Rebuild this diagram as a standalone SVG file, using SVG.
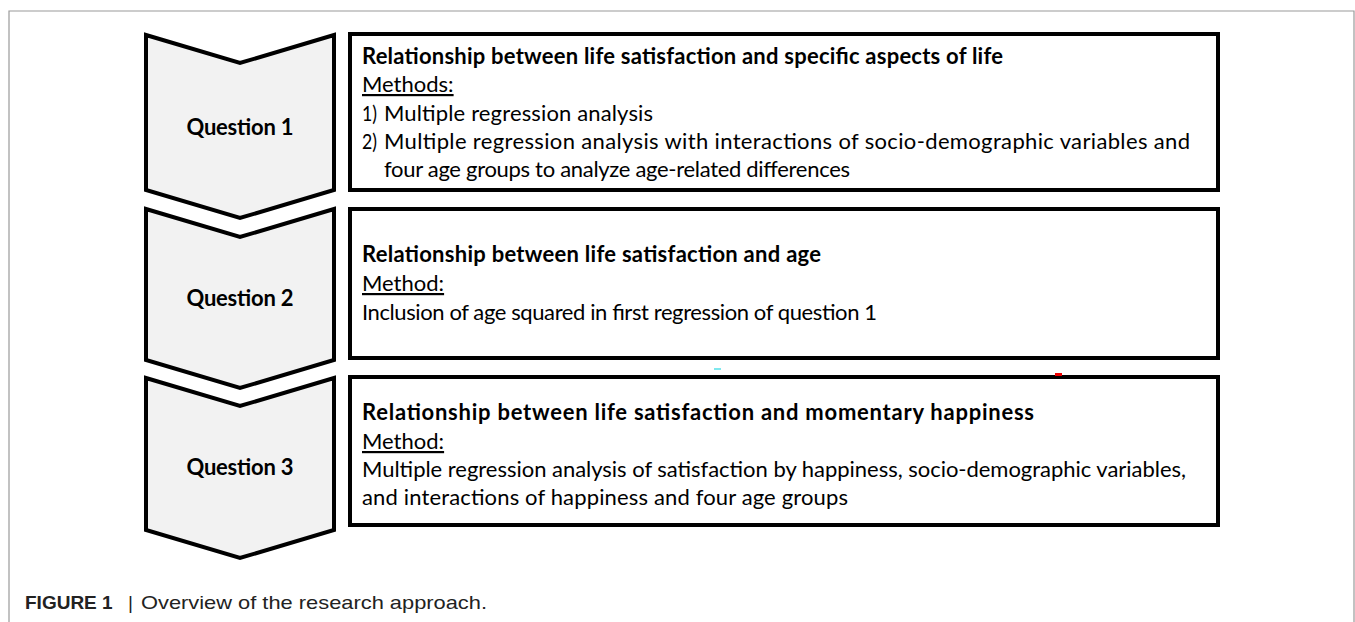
<svg xmlns="http://www.w3.org/2000/svg" width="1355" height="622" viewBox="0 0 1355 622">
<style>
.frame{fill:none;stroke:#9a9a9a;stroke-width:1.2}
.chev{fill:#f2f2f2;stroke:#000;stroke-width:4;stroke-linejoin:miter}
.box{fill:#fff;stroke:#000;stroke-width:4}
.q{font-family:Lato,"Liberation Sans",sans-serif;font-weight:bold;font-size:22px;fill:#000;text-anchor:middle}
.t{font-family:Lato,"Liberation Sans",sans-serif;font-size:22px;fill:#000}
.b{font-weight:bold}
.u{text-decoration:underline}
.cap{font-family:"Liberation Sans",Arial,sans-serif;font-size:19px;fill:#222}
</style>
<rect width="1355" height="622" fill="#fff"/>
<path class="frame" d="M9,622 V11 H1354 V622"/>
<g id="q1">
<path class="chev" d="M146,35 L240,63 L334,35 L334,190 L240,218 L146,190 Z"/>
<text class="q" x="240" y="135" textLength="107" lengthAdjust="spacing">Question 1</text>
</g>
<g id="q2">
<path class="chev" d="M146,209 L240,237 L334,209 L334,360 L240,388 L146,360 Z"/>
<text class="q" x="240" y="306" textLength="107" lengthAdjust="spacing">Question 2</text>
</g>
<g id="q3">
<path class="chev" d="M146,378 L240,406 L334,378 L334,530 L240,558 L146,530 Z"/>
<text class="q" x="240" y="475" textLength="107" lengthAdjust="spacing">Question 3</text>
</g>
<g id="box1">
<rect class="box" x="350" y="34" width="868" height="156"/>
<text class="t b" x="362" y="64" textLength="641" lengthAdjust="spacing">Relationship between life satisfaction and specific aspects of life</text>
<text class="t u" x="362" y="92">Methods:</text>
<text class="t" x="362" y="121" textLength="15" lengthAdjust="spacingAndGlyphs">1)</text>
<text class="t" x="384" y="121" textLength="269" lengthAdjust="spacing">Multiple regression analysis</text>
<text class="t" x="362" y="149" textLength="15" lengthAdjust="spacingAndGlyphs">2)</text>
<text class="t" x="384" y="149" textLength="806" lengthAdjust="spacing">Multiple regression analysis with interactions of socio-demographic variables and</text>
<text class="t" x="384" y="177" textLength="466" lengthAdjust="spacing">four age groups to analyze age-related differences</text>
</g>
<g id="box2">
<rect class="box" x="350" y="209" width="868" height="149"/>
<text class="t b" x="362" y="262" textLength="459" lengthAdjust="spacing">Relationship between life satisfaction and age</text>
<text class="t u" x="362" y="291">Method:</text>
<text class="t" x="362" y="320" textLength="515" lengthAdjust="spacing">Inclusion of age squared in first regression of question 1</text>
</g>
<g id="box3">
<rect class="box" x="350" y="377" width="868" height="148"/>
<text class="t b" x="362" y="420" textLength="672" lengthAdjust="spacing">Relationship between life satisfaction and momentary happiness</text>
<text class="t u" x="362" y="449">Method:</text>
<text class="t" x="362" y="477" textLength="824" lengthAdjust="spacing">Multiple regression analysis of satisfaction by happiness, socio-demographic variables,</text>
<text class="t" x="362" y="505" textLength="486" lengthAdjust="spacing">and interactions of happiness and four age groups</text>
</g>
<g id="connectors"></g>
<rect x="714" y="368" width="7" height="2" fill="#7fe8ee"/>
<rect x="1055" y="373" width="7" height="3" fill="#e00"/>
<text class="cap" x="25" y="609" font-weight="bold" font-size="17.5">FIGURE 1</text>
<text class="cap" x="128" y="609">|</text>
<text class="cap" x="141" y="609" font-size="20.5" textLength="346" lengthAdjust="spacingAndGlyphs">Overview of the research approach.</text>
</svg>
